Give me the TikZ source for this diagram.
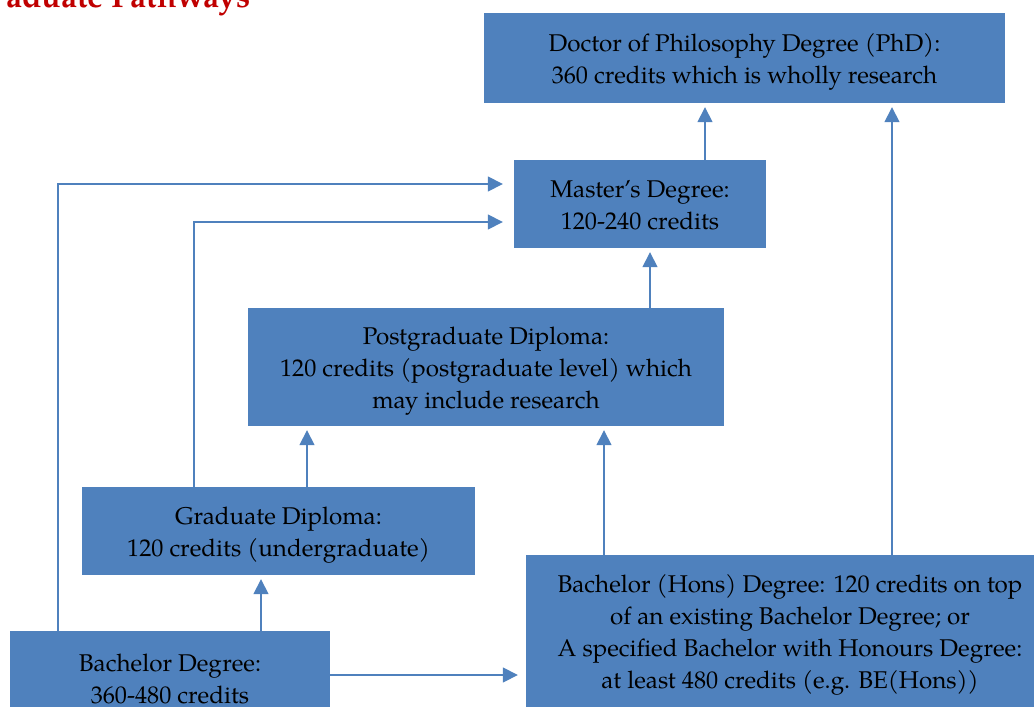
\documentclass[tikz,border=0pt]{standalone}
\usepackage{fontspec}
\setmainfont{TeX Gyre Pagella}
\usetikzlibrary{arrows.meta}
\definecolor{boxblue}{HTML}{4F81BD}
\definecolor{titlered}{HTML}{C00000}
\newcommand{\boxtext}[1]{\raisebox{-3pt}[\height][\depth]{\begin{tabular}{@{}c@{}}#1\end{tabular}}}
\tikzset{
  box/.style={fill=boxblue, draw=none, inner sep=0pt,
    font=\fontsize{24.2}{32}\selectfont, text=black},
  arr/.style={draw=boxblue, line width=1.6pt,
    -{Triangle[length=15pt,width=15pt]}, shorten >=4pt},
}
\begin{document}
\begin{tikzpicture}[x=1pt,y=-1pt]
\useasboundingbox (0,0) rectangle (1034,707);
\clip (0,0) rectangle (1034,707);
% title (cut off at the top)
\node[anchor=base east, text=titlered, font=\fontsize{32}{34}\bfseries\selectfont, inner sep=0pt] (title) at (251,7) {aduate Pathways};
% boxes
\node[box, minimum width=521pt, minimum height=90pt] (phd) at (744.5,58)
  {\boxtext{Doctor of Philosophy Degree (PhD):\\360 credits which is wholly research}};
\node[box, minimum width=252pt, minimum height=88pt] (mast) at (640,204)
  {\boxtext{Master’s Degree:\\120-240 credits}};
\node[box, minimum width=476pt, minimum height=118pt] (pg) at (486,367)
  {\boxtext{Postgraduate Diploma:\\120 credits (postgraduate level) which\\may include research}};
\node[box, minimum width=393pt, minimum height=88pt] (grad) at (278.5,531)
  {\boxtext{Graduate Diploma:\\120 credits (undergraduate)}};
\node[box, minimum width=528pt, minimum height=152pt] (hons) at (790,631)
  {\boxtext{Bachelor (Hons) Degree: 120 credits on top\\of an existing Bachelor Degree; or\\A specified Bachelor with Honours Degree:\\at least 480 credits (e.g. BE(Hons))}};
\node[box, minimum width=320pt, minimum height=94pt] (bach) at (170,678)
  {\boxtext{Bachelor Degree:\\360-480 credits}};
% connectors
\draw[arr, shorten >=11pt] (bach.north -| 58,0) |- (mast.west |- 0,184);
\draw[arr, shorten >=11pt] (grad.north -| 194,0) |- (mast.west |- 0,222);
\draw[arr] (bach.north -| 261,0) -- (grad.south -| 261,0);
\draw[arr] (grad.north -| 307,0) -- (pg.south -| 307,0);
\draw[arr] (hons.north -| 604,0) -- (pg.south -| 604,0);
\draw[arr] (hons.north -| 892,0) -- (phd.south -| 892,0);
\draw[arr] (pg.north -| 650,0) -- (mast.south -| 650,0);
\draw[arr] (mast.north -| 705,0) -- (phd.south -| 705,0);
\draw[arr, shorten >=8pt] (bach.east |- 0,675) -- (hons.west |- 0,675);
\end{tikzpicture}
\end{document}
